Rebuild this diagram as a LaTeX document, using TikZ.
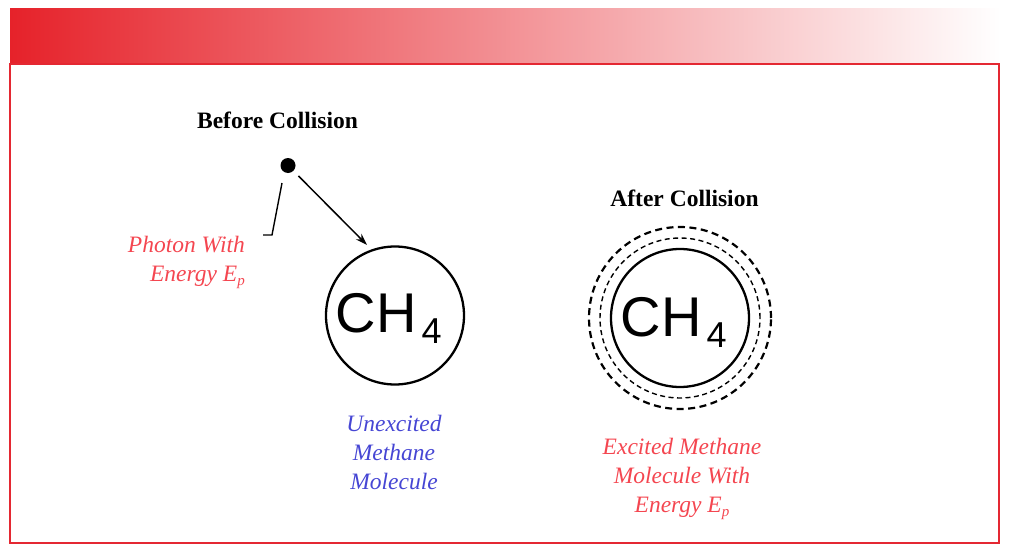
\documentclass[tikz,border=0pt]{standalone}
\usepackage{fontspec}
\setmainfont{Liberation Serif}
\newfontfamily\chfont{Liberation Sans}
\usetikzlibrary{arrows.meta}
\definecolor{hdred}{RGB}{230,34,42}
\definecolor{framered}{RGB}{228,40,50}
\definecolor{labred}{RGB}{244,70,80}
\definecolor{labblue}{RGB}{70,70,212}
\tikzset{
  x=1pt,y=-1pt,
  heading/.style={font=\fontsize{23.5}{27}\selectfont\bfseries, inner sep=0pt, anchor=base},
  lab/.style={font=\fontsize{23.5}{29}\selectfont\itshape, inner sep=0pt, anchor=base, align=center},
  molecule/.style={circle, draw, line width=2.3pt, minimum size=#1, inner sep=0pt},
  ring/.style={circle, draw, minimum size=#1, inner sep=0pt},
  formula/.style={font=\chfont\fontsize{56}{56}\selectfont, inner sep=0pt, anchor=base west},
  conn/.style={line width=1.5pt},
}
\newcommand{\Ep}{E\raisebox{-4.5pt}{\fontsize{15}{15}\selectfont p}}
\newcommand{\subfour}{\kern5pt\raisebox{-11pt}{\fontsize{36}{36}\selectfont 4}}
\begin{document}
\begin{tikzpicture}
\useasboundingbox (0,0) rectangle (1012,554);
% header gradient and frame
\shade[left color=hdred, right color=white] (10,8) rectangle (1001,63);
\draw[framered, line width=1.2pt] (10,64) rectangle (999,543);

% before collision
\node[heading] (before) at (277.5,128) {Before Collision};
\node[circle, fill=black, minimum size=15pt, inner sep=0pt] (photon) at (288,165.5) {};
\node[molecule=138pt] (m1) at (395,315.5) {};
\node[formula] (f1) at (335.5,332) {CH\subfour};
\coordinate (tip) at (367,245);
\draw[conn, -{Stealth[length=12pt,width=8pt]}] (photon.-45) ++(5,5) -- (tip);
\coordinate (lead1) at (282,183);
\coordinate (lead2) at (272,235);
\coordinate (lead3) at (263,235);
\draw[line width=1.4pt] (lead1) -- (lead2) -- (lead3);
\node[lab, labred, align=right, anchor=base east] (photonlab) at (245,281) {Photon With\\Energy \Ep};
\node[lab, labblue] (unexc) at (394,489) {Unexcited\\Methane\\Molecule};

% after collision
\node[heading] (after) at (684.5,206) {After Collision};
\node[ring=182pt, dash pattern=on 7pt off 4.5pt, line width=2.2pt] (outer) at (680,318) {};
\node[ring=160pt, dash pattern=on 5pt off 3.5pt, line width=1.4pt] (inner) at (680,318) {};
\node[molecule=138pt] (m2) at (680,318) {};
\node[formula] (f2) at (620.5,336) {CH\subfour};
\node[lab, labred] (exc) at (682,512) {Excited Methane\\Molecule With\\Energy \Ep};
\end{tikzpicture}
\end{document}
